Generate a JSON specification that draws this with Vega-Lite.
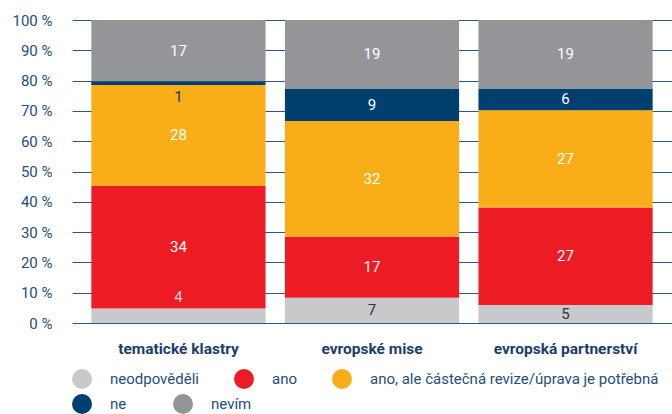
{
  "$schema": "https://vega.github.io/schema/vega-lite/v6.json",
  "width": 600,
  "height": 303,
  "autosize": {"type": "none"},
  "padding": {"left": 72, "top": 20, "right": 0, "bottom": 91},
  "config": {
    "font": "Roboto",
    "view": {"stroke": null},
    "axisY": {
      "title": null,
      "tickCount": 10,
      "labelExpr": "round(datum.value * 100) + ' %'",
      "grid": true,
      "gridColor": "#2a5886",
      "gridWidth": 1,
      "gridOpacity": 1,
      "ticks": false,
      "domain": false,
      "labelPadding": 20,
      "labelColor": "#1f4e79",
      "labelFontSize": 15,
      "labelOverlap": false
    }
  },
  "data": {
    "values": [
      {"category": "tematické klastry", "response": "neodpověděli", "value": 4},
      {"category": "tematické klastry", "response": "ano", "value": 34},
      {"category": "tematické klastry", "response": "ano, ale částečná revize/úprava je potřebná", "value": 28},
      {"category": "tematické klastry", "response": "ne", "value": 1},
      {"category": "tematické klastry", "response": "nevím", "value": 17},
      {"category": "evropské mise", "response": "neodpověděli", "value": 7},
      {"category": "evropské mise", "response": "ano", "value": 17},
      {"category": "evropské mise", "response": "ano, ale částečná revize/úprava je potřebná", "value": 32},
      {"category": "evropské mise", "response": "ne", "value": 9},
      {"category": "evropské mise", "response": "nevím", "value": 19},
      {"category": "evropská partnerství", "response": "neodpověděli", "value": 5},
      {"category": "evropská partnerství", "response": "ano", "value": 27},
      {"category": "evropská partnerství", "response": "ano, ale částečná revize/úprava je potřebná", "value": 27},
      {"category": "evropská partnerství", "response": "ne", "value": 6},
      {"category": "evropská partnerství", "response": "nevím", "value": 19}
    ]
  },
  "transform": [
    {"calculate": "indexof(['neodpověděli','ano','ano, ale částečná revize/úprava je potřebná','ne','nevím'], datum.response)", "as": "ord"},
    {"stack": "value", "groupby": ["category"], "sort": [{"field": "ord", "order": "ascending"}], "offset": "normalize", "as": ["y0", "y1"]},
    {"calculate": "(datum.y0 + datum.y1) / 2", "as": "ym"}
  ],
  "encoding": {
    "x": {
      "field": "category",
      "type": "nominal",
      "sort": ["tematické klastry", "evropské mise", "evropská partnerství"],
      "scale": {"paddingInner": 0.1, "paddingOuter": 0.1},
      "axis": {
        "title": null,
        "labelAngle": 0,
        "ticks": false,
        "domain": false,
        "labelFontWeight": "bold",
        "labelColor": "#1b3d6b",
        "labelFontSize": 15.5,
        "labelPadding": 18
      }
    }
  },
  "layer": [
    {
      "transform": [{"filter": "datum.ord < 3"}],
      "mark": {"type": "bar"},
      "encoding": {
        "y": {"field": "y0", "type": "quantitative", "scale": {"domain": [0, 1], "nice": false}, "title": null},
        "y2": {"field": "y1"},
        "color": {
          "field": "response",
          "type": "nominal",
          "scale": {
            "domain": ["neodpověděli", "ano", "ano, ale částečná revize/úprava je potřebná"],
            "range": ["#c8c9cb", "#ed1c24", "#f9ae19"]
          },
          "legend": {
            "title": null,
            "orient": "none",
            "legendX": 0,
            "legendY": 349,
            "direction": "horizontal",
            "columns": 3,
            "padding": 0,
            "symbolType": "circle",
            "symbolSize": 400,
            "symbolStrokeWidth": 0,
            "labelOffset": 18,
            "labelFontSize": 15,
            "labelColor": "#1f4e79",
            "labelLimit": 400,
            "columnPadding": 35
          }
        }
      }
    },
    {
      "transform": [{"filter": "datum.ord >= 3"}],
      "mark": {"type": "bar"},
      "encoding": {
        "y": {"field": "y0", "type": "quantitative", "title": null},
        "y2": {"field": "y1"},
        "color": {
          "field": "response",
          "type": "nominal",
          "scale": {
            "domain": ["ne", "nevím"],
            "range": ["#003f6e", "#939598"]
          },
          "legend": {
            "title": null,
            "orient": "none",
            "legendX": 0,
            "legendY": 374,
            "direction": "horizontal",
            "columns": 2,
            "padding": 0,
            "symbolType": "circle",
            "symbolSize": 400,
            "symbolStrokeWidth": 0,
            "labelOffset": 18,
            "labelFontSize": 15,
            "labelColor": "#1f4e79",
            "labelLimit": 400,
            "columnPadding": 46
          }
        }
      }
    },
    {
      "transform": [{"filter": "datum.value > 4"}],
      "mark": {"type": "text", "fontSize": 15},
      "encoding": {
        "y": {"field": "ym", "type": "quantitative", "title": null},
        "text": {"field": "value", "type": "quantitative"},
        "color": {
          "condition": {"test": "datum.response === 'neodpověděli'", "value": "#333333"},
          "value": "#ffffff"
        }
      }
    },
    {
      "transform": [{"filter": "datum.value <= 4 && datum.response === 'neodpověděli'"}],
      "mark": {"type": "text", "fontSize": 15, "dy": -12, "color": "#d0d1d3"},
      "encoding": {
        "y": {"field": "y1", "type": "quantitative", "title": null},
        "text": {"field": "value", "type": "quantitative"}
      }
    },
    {
      "transform": [{"filter": "datum.value <= 4 && datum.response === 'ne'"}],
      "mark": {"type": "text", "fontSize": 15, "dy": 12, "color": "#003f6e"},
      "encoding": {
        "y": {"field": "y0", "type": "quantitative", "title": null},
        "text": {"field": "value", "type": "quantitative"}
      }
    }
  ],
  "resolve": {"scale": {"color": "independent"}, "legend": {"color": "independent"}}
}
